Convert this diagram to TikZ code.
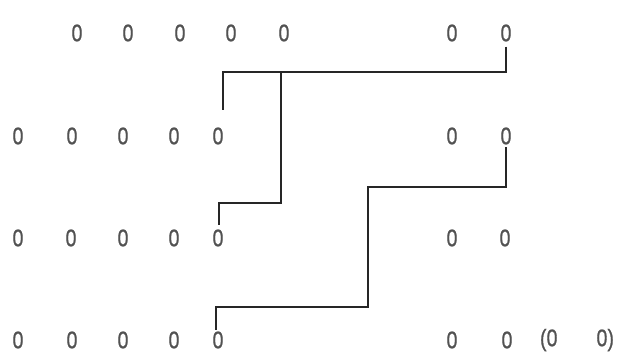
\documentclass[tikz,border=0pt]{standalone}
\usepackage{fontspec}
\setmainfont[FakeStretch=0.82,FakeBold=0.6]{Liberation Sans}
\begin{document}
\begin{tikzpicture}[x=1pt,y=-1pt,
  zero/.style={inner sep=1pt,text=black!68,font=\fontsize{24}{24}\selectfont},
  wire/.style={draw=black!85,line width=1.3pt}]
\useasboundingbox[fill=white] (0,0) rectangle (621,361);
% row 1
\foreach \x [count=\i] in {77,128,180,231,284,452,506}
  \node[zero] (r1c\i) at (\x,33) {0};
% row 2
\foreach \x [count=\i] in {18,72,123,174,218,452,506}
  \node[zero] (r2c\i) at (\x,136) {0};
% row 3
\foreach \x [count=\i] in {18,71,123,174,218,452,505}
  \node[zero] (r3c\i) at (\x,238) {0};
% row 4
\foreach \x [count=\i] in {18,72,123,174,218,452,507}
  \node[zero] (r4c\i) at (\x,340) {0};
\node[zero] (pair) at (577,340) {(0\hspace{39pt}0)};
% connectors
\coordinate (j1) at (281,72);
\coordinate (a1) at (223,110);
\draw[wire] ([yshift=-4pt]r1c7.south) |- (223,72) -- (a1);
\draw[wire] (j1) -- (281,203) -| ([xshift=1pt,yshift=3pt]r3c5.north);
\draw[wire] ([yshift=-1.5pt]r2c7.south) |- (368,187) |- ([xshift=-2pt]r4c5.north |- 0,307) -- ([xshift=-2pt]r4c5.north);
\end{tikzpicture}
\end{document}
